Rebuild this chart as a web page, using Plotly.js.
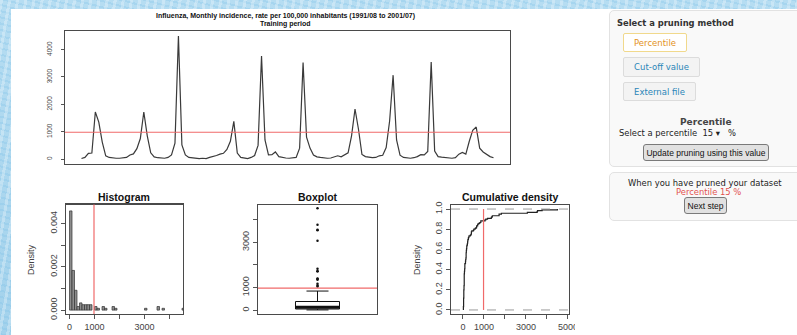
<!DOCTYPE html>
<html><head><meta charset="utf-8">
<script src="https://cdn.plot.ly/plotly-3.0.1.min.js"></script>
<style>
html,body{margin:0;padding:0;width:797px;height:335px;overflow:hidden;}
body{position:relative;font-family:"DejaVu Sans",sans-serif;}
#bg{position:absolute;left:0;top:0;width:797px;height:335px;
 background:repeating-linear-gradient(100deg,rgba(255,255,255,0.28) 0 3px,rgba(255,255,255,0) 3px 8px),
 repeating-linear-gradient(15deg,rgba(120,190,230,0.25) 0 2px,rgba(255,255,255,0) 2px 6px),
 linear-gradient(#b6ddf2,#a3d2ec);}
#white{position:absolute;left:11px;top:9px;right:0;bottom:0;background:#fff;}
#plot{position:absolute;left:0;top:0;width:797px;height:335px;}
.well{position:absolute;left:609px;width:200px;background:#f9f9f9;border:1px solid #e2e2e2;border-radius:5px;box-sizing:border-box;}
.t{position:absolute;white-space:nowrap;line-height:1;}
.btn{position:absolute;box-sizing:border-box;font-family:"DejaVu Sans",sans-serif;font-size:8.5px;display:flex;align-items:center;justify-content:center;white-space:nowrap;border-radius:2px;}
.gbtn{position:absolute;box-sizing:border-box;font-family:"Liberation Sans",Arial,sans-serif;font-size:8.5px;color:#111;background:#e1e1e1;border:1px solid #7a7a7a;border-radius:3px;display:flex;align-items:center;justify-content:center;white-space:nowrap;}
#cover{position:absolute;left:575px;top:317px;width:30px;height:16px;background:#fff;}
</style></head>
<body>
<div id="bg"></div>
<div id="white"></div>
<div id="plot"></div>
<div id="cover"></div>

<div class="well" style="top:10px;height:157px;"></div>
<div class="t" style="left:617px;top:19px;font-weight:bold;font-size:8.4px;color:#333;">Select a pruning method</div>
<div class="btn" style="left:623px;top:33px;width:64px;height:19px;background:#fff;border:1px solid #f1d98c;color:#e3921c;">Percentile</div>
<div class="btn" style="left:623px;top:57px;width:77px;height:20px;background:#f3f3f3;border:1px solid #dcdcdc;color:#2a86b8;">Cut-off value</div>
<div class="btn" style="left:623px;top:82px;width:73px;height:19px;background:#f3f3f3;border:1px solid #dcdcdc;color:#2a86b8;">External file</div>
<div class="t" style="left:680px;top:118px;font-weight:bold;font-size:9px;color:#444;">Percentile</div>
<div class="t" style="left:619px;top:129px;font-size:8.4px;color:#222;">Select a percentile&nbsp;&nbsp;15 ▾&nbsp;&nbsp;&nbsp;%</div>
<div class="gbtn" style="left:643px;top:144px;width:126px;height:17px;">Update pruning using this value</div>

<div class="well" style="top:172px;height:49px;"></div>
<div class="t" style="left:628px;top:179px;font-size:8.4px;color:#222;">When you have pruned your dataset</div>
<div class="t" style="left:676px;top:188px;font-size:8.4px;color:#e2524f;">Percentile 15 %</div>
<div class="gbtn" style="left:684px;top:197px;width:43px;height:17px;">Next step</div>

<script>
// ---- data (monthly incidence per 100,000, 1991/08 .. 2001/07) ----
const startYear = 1991, startMonth = 8;
const incidence = [
  20, 60, 210, 220, 1720, 1350, 620, 120, 60, 40, 30, 30,
  40, 60, 150, 190, 380, 750, 1720, 850, 230, 80, 50, 40,
  30, 60, 150, 580, 4500, 520, 150, 60, 40, 30, 20, 30,
  20, 60, 90, 130, 180, 210, 350, 650, 1380, 220, 60, 30,
  20, 60, 130, 500, 3770, 700, 150, 160, 260, 90, 60, 40,
  30, 40, 60, 400, 3530, 800, 400, 150, 80, 60, 40, 30,
  40, 70, 120, 80, 160, 230, 850, 1830, 1090, 170, 90, 70,
  50, 60, 120, 140, 420, 1400, 3066, 700, 140, 60, 40, 30,
  50, 90, 160, 150, 280, 3550, 290, 90, 70, 60, 40, 30,
  50, 180, 240, 180, 650, 1050, 1170, 400, 260, 170, 90, 50
];
const threshold = 980;           // pruning cut-off (percentile 15 %)
const mainTitle = "Influenza, Monthly incidence, rate per 100,000 inhabitants (1991/08 to 2001/07)";
const subTitle = "Training period";
const panelTitles = ["Histogram", "Boxplot", "Cumulative density"];
const yLabel = "Density";
const mainYTicks = [0, 1000, 2000, 3000, 4000];
const histXTicks = [0, 1000, 2000, 3000, 4000], histXText = ["0", "1000", "", "3000", ""];
const histYTicks = [0, 0.001, 0.002, 0.003, 0.004], histYText = ["0.000", "", "0.002", "", "0.004"];
const boxYTicks = [0, 1000, 2000, 3000, 4000], boxYText = ["0", "1000", "", "3000", ""];
const cdfXTicks = [0, 1000, 2000, 3000, 4000, 5000], cdfXText = ["0", "1000", "", "3000", "", "5000"];
const cdfYTicks = [0, 0.2, 0.4, 0.6, 0.8, 1.0], cdfYText = ["0.0", "0.2", "0.4", "0.6", "0.8", "1.0"];

// ---- derived ----
const monthIndex = incidence.map((_, i) => i);
const sorted = incidence.slice().sort((a, b) => a - b);
const n = sorted.length;
const cdfX = [sorted[0]].concat(sorted);
const cdfY = [0].concat(sorted.map((_, i) => (i + 1) / n));
const median = (sorted[n / 2 - 1] + sorted[n / 2]) / 2;

const W = 797, H = 335;
const fx = p => p / W, fy = p => 1 - p / H;
const RED = '#f06a6a', FRAME = '#4a4a4a', TICKC = '#555';
const tf = {family: 'Liberation Sans, Arial, sans-serif', size: 9, color: '#444'};

function frameAxis(extra) {
  return Object.assign({showline: true, mirror: true, linecolor: FRAME, linewidth: 1.3,
    showgrid: false, zeroline: false, ticks: 'outside', ticklen: 4, tickcolor: TICKC,
    tickwidth: 1, tickfont: tf, fixedrange: true}, extra);
}

const traces = [
  {type: 'scatter', mode: 'lines', x: monthIndex, y: incidence, xaxis: 'x', yaxis: 'y',
   line: {color: '#3a3a3a', width: 1.2}, hoverinfo: 'skip'},
  {type: 'histogram', x: incidence, xaxis: 'x2', yaxis: 'y2', histnorm: 'probability density',
   xbins: {start: 0, end: 4600, size: 100},
   marker: {color: '#8c8c8c', line: {color: '#333', width: 0.7}}},
  {type: 'box', y: incidence, x0: 0, xaxis: 'x3', yaxis: 'y3', width: 0.37, whiskerwidth: 0.5,
   boxpoints: 'outliers', pointpos: 0, jitter: 0, quartilemethod: 'exclusive',
   fillcolor: '#fff', line: {color: '#111', width: 1}, marker: {color: '#111', size: 2.5}},
  {type: 'scatter', mode: 'lines', x: cdfX, y: cdfY, xaxis: 'x4', yaxis: 'y4',
   line: {color: '#222', width: 1.2, shape: 'hv'}}
];

const layout = {
  width: W, height: H, margin: {l: 0, r: 0, t: 0, b: 0},
  paper_bgcolor: 'rgba(0,0,0,0)', plot_bgcolor: '#fff', showlegend: false, bargap: 0,
  font: {family: 'Liberation Sans, Arial, sans-serif', color: '#444'},
  xaxis: frameAxis({domain: [fx(65), fx(510)], range: [-4.76, 123.76], ticks: '', showticklabels: false, anchor: 'y'}),
  yaxis: frameAxis({domain: [fy(164), fy(31)], range: [-180, 4680], tickvals: mainYTicks, ticklen: 3,
    tickangle: -90, tickfont: Object.assign({}, tf, {size: 6.5}), ticklabelstandoff: 6, anchor: 'x'}),
  xaxis2: frameAxis({domain: [fx(66), fx(183)], range: [-140, 4540], tickvals: histXTicks, ticktext: histXText, anchor: 'y2'}),
  yaxis2: frameAxis({domain: [fy(314), fy(204.5)], range: [-0.00018, 0.00488], tickvals: histYTicks, ticktext: histYText,
    tickangle: -90, anchor: 'x2'}),
  xaxis3: frameAxis({domain: [fx(258), fx(377)], range: [-0.5, 0.5], ticks: '', showticklabels: false, anchor: 'y3'}),
  yaxis3: frameAxis({domain: [fy(314), fy(205)], range: [-160, 4640], tickvals: boxYTicks, ticktext: boxYText,
    tickangle: -90, anchor: 'x3'}),
  xaxis4: frameAxis({domain: [fx(451), fx(569)], range: [-570, 5050], tickvals: cdfXTicks, ticktext: cdfXText, anchor: 'y4'}),
  yaxis4: frameAxis({domain: [fy(314), fy(205)], range: [-0.04, 1.04], tickvals: cdfYTicks, ticktext: cdfYText,
    tickangle: -90, anchor: 'x4'}),
  shapes: [
    {type: 'line', xref: 'x domain', x0: 0, x1: 1, yref: 'y', y0: threshold, y1: threshold, line: {color: RED, width: 1.2}},
    {type: 'line', xref: 'x2', x0: threshold, x1: threshold, yref: 'y2 domain', y0: 0, y1: 1, line: {color: RED, width: 1.2}},
    {type: 'line', xref: 'x3', x0: -0.185, x1: 0.185, yref: 'y3', y0: median, y1: median, line: {color: '#111', width: 3}},
    {type: 'line', xref: 'x3 domain', x0: 0, x1: 1, yref: 'y3', y0: threshold, y1: threshold, line: {color: RED, width: 1.2}},
    {type: 'line', xref: 'x4 domain', x0: 0, x1: 1, yref: 'y4', y0: 0, y1: 0, line: {color: '#9a9a9a', width: 1, dash: 'dash'}},
    {type: 'line', xref: 'x4 domain', x0: 0, x1: 1, yref: 'y4', y0: 1, y1: 1, line: {color: '#9a9a9a', width: 1, dash: 'dash'}},
    {type: 'line', xref: 'x4', x0: threshold, x1: threshold, yref: 'y4', y0: 0, y1: 1, line: {color: RED, width: 1.2}}
  ],
  annotations: [
    {text: '<b>' + mainTitle + '</b>', x: fx(285), y: fy(16), font: {size: 7, color: '#111'}},
    {text: '<b>' + subTitle + '</b>', x: fx(285), y: fy(24), font: {size: 7, color: '#111'}},
    {text: '<b>' + panelTitles[0] + '</b>', x: fx(124), y: fy(196.5), font: {size: 10.5, color: '#111'}},
    {text: '<b>' + panelTitles[1] + '</b>', x: fx(317.5), y: fy(196.5), font: {size: 10.5, color: '#111'}},
    {text: '<b>' + panelTitles[2] + '</b>', x: fx(510), y: fy(196.5), font: {size: 10.5, color: '#111'}},
    {text: yLabel, x: fx(31), y: fy(260), textangle: -90, font: {size: 9, color: '#444'}},
    {text: yLabel, x: fx(417), y: fy(260), textangle: -90, font: {size: 9, color: '#444'}}
  ].map(a => Object.assign({xref: 'paper', yref: 'paper', showarrow: false, xanchor: 'center', yanchor: 'middle'}, a))
};

Plotly.newPlot('plot', traces, layout, {displayModeBar: false, staticPlot: true});
</script>
</body></html>
